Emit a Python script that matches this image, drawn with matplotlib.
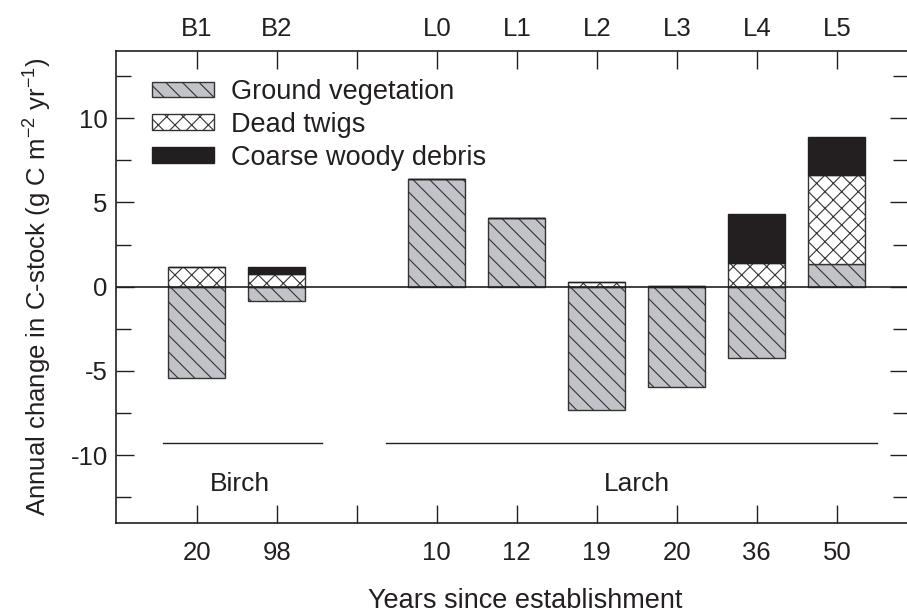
import matplotlib
matplotlib.use("Agg")
import matplotlib.pyplot as plt
from matplotlib.ticker import MultipleLocator
from matplotlib.patches import Patch

plt.rcParams['font.family'] = ['Liberation Sans', 'DejaVu Sans']
plt.rcParams['mathtext.fontset'] = 'custom'
plt.rcParams['mathtext.rm'] = 'Liberation Sans'
plt.rcParams['mathtext.default'] = 'regular'
plt.rcParams['axes.unicode_minus'] = False
plt.rcParams['hatch.linewidth'] = 0.8

ink = '#231f20'

# data
sites = ['B1', 'B2', 'L0', 'L1', 'L2', 'L3', 'L4', 'L5']
years = ['20', '98', '10', '12', '19', '20', '36', '50']
n_birch = 2
ground = [-5.4, -0.85, 6.4, 4.08, -7.3, -5.97, -4.2, 1.35]
twigs = [1.15, 0.75, 0.0, 0.0, 0.26, 0.05, 1.4, 5.3]
cwd = [0.0, 0.4, 0.0, 0.0, 0.0, 0.0, 2.9, 2.25]

# birch bars, one empty slot, then larch bars
pos = list(range(n_birch)) + [i + 1 for i in range(n_birch, len(sites))]

fig = plt.figure(figsize=(9.07, 6.13), dpi=100)
ax = fig.add_axes([116/907, 1 - 522.7/613, 792/907, 472/613])

w = 0.71
gv_col = '#c1c3c9'
edge = '#333333'
tw_bottom = [max(g, 0) for g in ground]
cwd_bottom = [b + t for b, t in zip(tw_bottom, twigs)]

ax.bar(pos, ground, w, color=gv_col, edgecolor=edge, hatch='\\\\', linewidth=1.0, zorder=2)
ax.bar(pos, twigs, w, bottom=tw_bottom, color='white', edgecolor=edge, hatch='xx', linewidth=1.0, zorder=2)
ax.bar(pos, cwd, w, bottom=cwd_bottom, color=ink, edgecolor=ink, linewidth=1.0, zorder=2)

ax.axhline(0, color=ink, lw=1.2, zorder=3)

# group lines and labels
ax.plot([-0.42, 1.56], [-9.27, -9.27], color=ink, lw=1.0)
ax.plot([2.37, 8.5], [-9.27, -9.27], color=ink, lw=1.0)
ax.text(0.54, -11.7, 'Birch', ha='center', va='center', fontsize=19, color=ink)
ax.text(5.5, -11.7, 'Larch', ha='center', va='center', fontsize=19, color=ink)

ax.set_xlim(-1.01, 8.89)
ax.set_ylim(-14, 14)

ticks = list(range(len(sites) + 1))
bottom_labels = years[:n_birch] + [''] + years[n_birch:]
top_labels = sites[:n_birch] + [''] + sites[n_birch:]
ax.set_xticks(ticks)
ax.set_xticklabels(bottom_labels)
ax.yaxis.set_major_locator(MultipleLocator(5))
ax.yaxis.set_minor_locator(MultipleLocator(2.5))
ax.tick_params(axis='both', which='major', direction='in', length=13, width=1.0,
               labelsize=18.5, colors=ink)
ax.tick_params(axis='y', which='major', pad=6)
ax.tick_params(axis='y', which='minor', direction='in', length=11, width=1.0, colors=ink)
ax.tick_params(axis='y', which='both', right=True)
ax.tick_params(axis='x', which='major', top=True, pad=13)

top = ax.secondary_xaxis('top')
top.set_xticks(ticks)
top.set_xticklabels(top_labels)
top.tick_params(direction='in', length=0, labelsize=18.5, colors=ink, pad=7)
top.spines['top'].set_visible(False)

for s in ax.spines.values():
    s.set_color(ink)
    s.set_linewidth(1.2)

ax.set_ylabel('Annual change in C-stock (g C m$^{-2}$ yr$^{-1}$)', fontsize=18.5, color=ink, va='center')
ax.yaxis.set_label_coords(-(116 - 38) / 792, 0.5)
ax.set_xlabel('Years since establishment', fontsize=19.5, color=ink, va='center')
ax.xaxis.set_label_coords((525 - 116) / 792, -(601 - 522.7) / 472)

handles = [Patch(facecolor=gv_col, edgecolor=edge, hatch='\\\\'),
           Patch(facecolor='white', edgecolor=edge, hatch='xx'),
           Patch(facecolor=ink, edgecolor=ink)]
ax.legend(handles, ['Ground vegetation', 'Dead twigs', 'Coarse woody debris'],
          loc='upper left', bbox_to_anchor=(152/907, 1 - 79/613), bbox_transform=fig.transFigure,
          frameon=False, fontsize=19.5, handlelength=2.3, handleheight=0.5,
          handletextpad=0.6, labelspacing=0.25, borderpad=0, borderaxespad=0,
          labelcolor=ink)

fig.savefig('out.png', dpi=100)
